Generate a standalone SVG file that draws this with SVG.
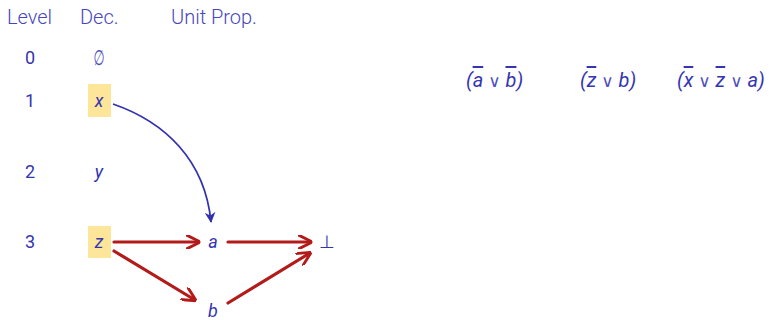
<svg xmlns="http://www.w3.org/2000/svg" width="769" height="320" viewBox="0 0 769 320">
<defs>
<style>
text{font-family:Roboto,"Liberation Sans",sans-serif;fill:#3535b0}
.h{font-size:20px;font-weight:300;fill:#4646bd}
.n{font-size:18px;font-weight:400;text-anchor:middle}
.v{font-size:18px;font-style:italic;text-anchor:middle}
.c{font-size:20px;font-style:italic}
.or{font-family:"DejaVu Sans",sans-serif;font-style:normal;font-size:17px;fill:#5050c0}
.ol{text-decoration:overline}
.hl{fill:#fde69a}
.red{stroke:#b31b1b;stroke-width:3.2;fill:none;stroke-linecap:round}
.blue{stroke:#3232b0;stroke-width:1.8;fill:none}
</style>
<marker id="ar" viewBox="0 0 10 10" refX="9" refY="5" markerWidth="4.5" markerHeight="4.5" orient="auto" markerUnits="strokeWidth">
<path d="M0,0 L10,5 L0,10" fill="none" stroke="#b31b1b" stroke-width="2" stroke-linejoin="miter"/>
</marker>
<marker id="ab" viewBox="0 0 10 10" refX="9" refY="5" markerWidth="6" markerHeight="6" orient="auto" markerUnits="strokeWidth">
<path d="M0,0 L10,5 L0,10 L3,5 z" fill="#3232b0"/>
</marker>
</defs>
<g id="headers">
<text class="h" x="7" y="24">Level</text>
<text class="h" x="80" y="24">Dec.</text>
<text class="h" x="171" y="24">Unit Prop.</text>
</g>
<g id="levels">
<text class="n" x="30" y="64">0</text>
<text class="n" x="30" y="107">1</text>
<text class="n" x="30" y="178">2</text>
<text class="n" x="30" y="248">3</text>
</g>
<g id="empty"><text class="n" transform="translate(99,65) scale(0.6,1)" x="0" y="0" style="font-family:'DejaVu Sans',sans-serif;font-size:21px;fill:#5050c0">∅</text></g>
<g id="node-x"><rect class="hl" x="88" y="84" width="23" height="33"/><text class="v" x="99" y="107">x</text></g>
<g id="node-y"><text class="v" x="99" y="178">y</text></g>
<g id="node-z"><rect class="hl" x="88" y="226" width="23" height="32"/><text class="v" x="99" y="248">z</text></g>
<g id="node-a"><text class="v" x="213" y="248">a</text></g>
<g id="node-b"><text class="v" x="213" y="317">b</text></g>
<g id="node-bot"><text class="n" x="327" y="248" style="font-weight:300">⊥</text></g>
<g id="clauses">
<text class="c" x="466" y="87">(<tspan class="ol">a</tspan> <tspan class="or">∨</tspan> <tspan class="ol">b</tspan>)</text>
<text class="c" x="580" y="87">(<tspan class="ol">z</tspan> <tspan class="or">∨</tspan> b)</text>
<text class="c" x="677" y="87">(<tspan class="ol">x</tspan> <tspan class="or">∨</tspan> <tspan class="ol">z</tspan> <tspan class="or">∨</tspan> a)</text>
</g>
<g id="connectors">
<path class="blue" d="M113,104 C165,122 205,160 211,222" marker-end="url(#ab)"/>
<path class="red" d="M114,242 L199,242" marker-end="url(#ar)"/>
<path class="red" d="M228,242 L311,242" marker-end="url(#ar)"/>
<path class="red" d="M114,251 L195,300" marker-end="url(#ar)"/>
<path class="red" d="M228,303 L310,253" marker-end="url(#ar)"/>
</g>
</svg>
